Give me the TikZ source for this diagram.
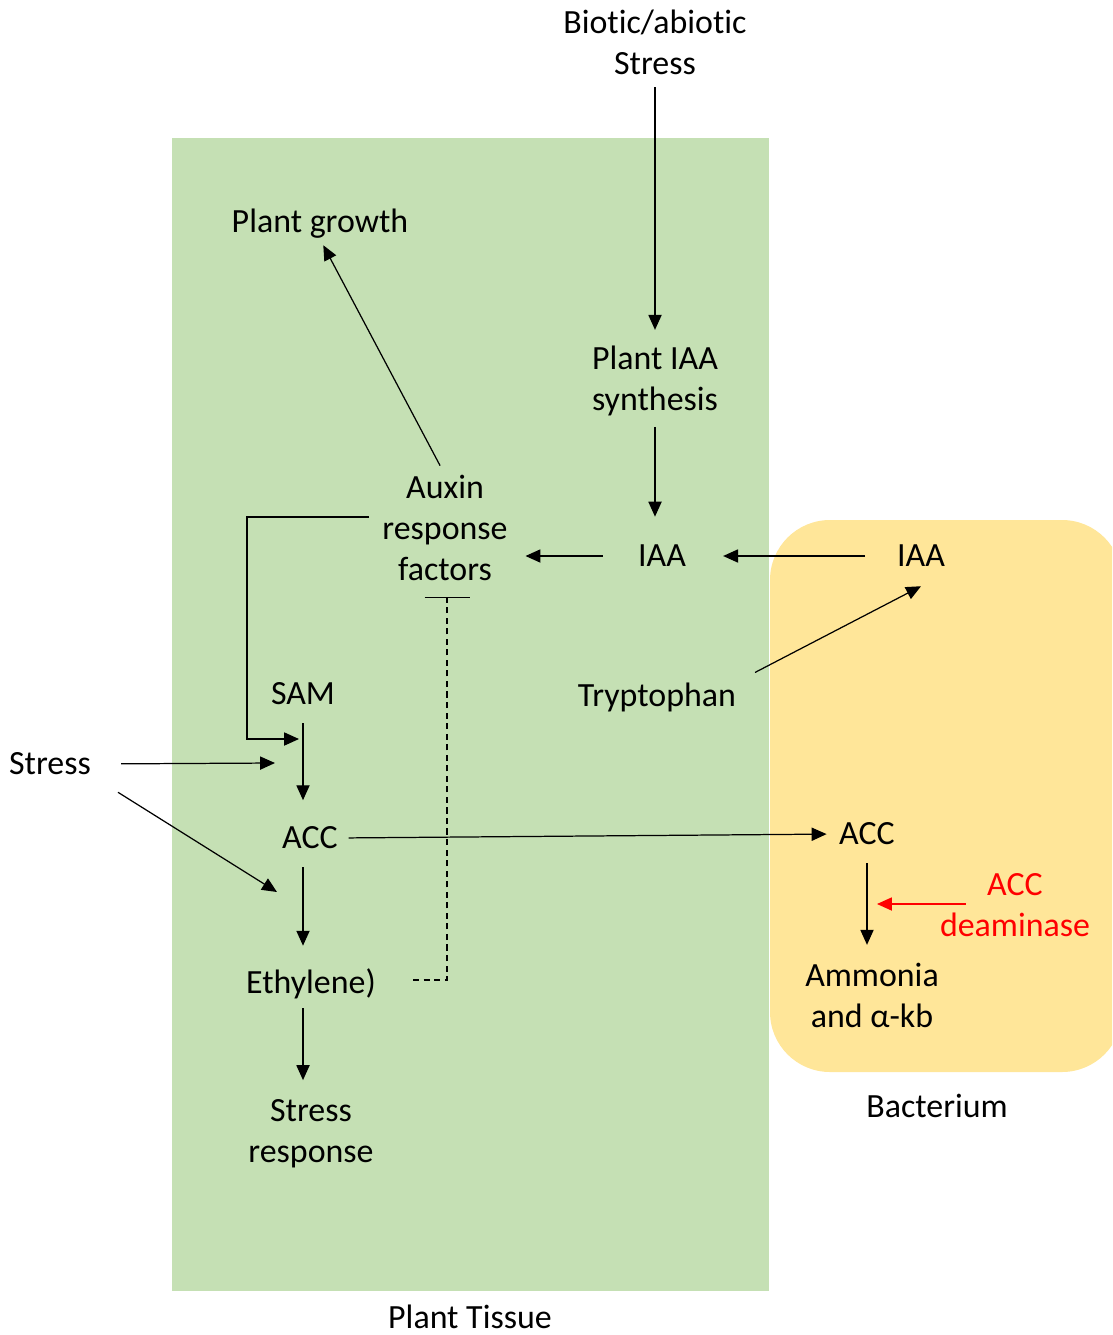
\documentclass[tikz,border=0pt]{standalone}
\usepackage{fontspec}
\setmainfont[Ligatures={NoCommon}]{Carlito}
\usepackage{tikz}
\usetikzlibrary{arrows.meta, positioning}
\definecolor{tissue}{HTML}{C5E0B4}
\definecolor{bact}{HTML}{FFE699}
\tikzset{lbl/.style={align=center, inner sep=0pt, font=\fontsize{19.3}{23.3}\selectfont},
    arr/.style={-{Triangle[length=8.5pt,width=7.5pt]}, line width=0.7pt},
    inhib/.style={-{Bar[width=0.9cm]}, line width=0.6pt, dash pattern=on 3.5pt off 2.5pt}}

\begin{document}
\begin{tikzpicture}[x=0.02cm,y=-0.02cm]
                 \useasboundingbox (0,0) rectangle (1112,1335);
                 \fill[tissue] (172,138) rectangle (769,1291);
                 \begin{scope}
                 \clip (0,0) rectangle (1112,1335);
                 \fill[bact, rounded corners=1.2cm] (770,520) rectangle (1122,1072);
                 \end{scope}
                 \node[lbl] (bio) at (655,42) {Biotic/abiotic\\Stress};
                 \node[lbl] (growth) at (320,224) {Plant growth};
                 \node[lbl] (syn) at (655,381) {Plant IAA\\synthesis};
                 \node[lbl] (auxin) at (445,528) {Auxin\\response\\factors};
                 \node[lbl] (iaa) at (662,556) {IAA};
                 \node[lbl] (iaab) at (921,556) {IAA};
                 \node[lbl] (tryp) at (657,697) {Tryptophan};
                 \node[lbl] (sam) at (303,694) {SAM};
                 \node[lbl] (stress) at (50,764) {Stress};
                 \node[lbl] (acc) at (310,838) {ACC};
                 \node[lbl] (accb) at (867,834) {ACC};
                 \node[lbl, text=red] (deam) at (1015,905) {ACC\\deaminase};
                 \node[lbl] (eth) at (311,984) {Ethylene)};
                 \node[lbl] (amm) at (872,995) {Ammonia\\and α-kb};
                 \node[lbl] (resp) at (311,1134) {Stress\\response};
                 \node[lbl] (bacterium) at (937,1106) {Bacterium};
                 \node[lbl] (tissue) at (470,1317) {Plant Tissue};
                 \coordinate (fb) at (299,739);
                 \coordinate (s1) at (275,763);
                 \coordinate (s2) at (277,892);
                 \coordinate (enz) at (877,904);
                 \draw[arr, shorten <=7pt, shorten >=9pt] (bio.south) -- (syn.north);
                 \draw[arr, shorten <=6pt, shorten >=16pt] (syn.south) -- (syn.south |- iaa.north);
                 \draw[arr, shorten <=20pt, shorten >=10pt] (iaa.west) -- (iaa.west -| auxin.east);
                 \draw[arr, shorten <=18pt, shorten >=21pt] (iaab.west) -- (iaa.east);
                 \draw[arr, shorten <=12pt] (tryp.north east) -- ([shift={(0,19)}]iaab.south);
                 \draw[arr, shorten <=6pt, shorten >=4pt] (auxin.north) -- (growth.south);
                 \draw[arr] ([shift={(-13,-11)}]auxin.west) -- ++(-122,0) |- (fb);
                 \draw[arr, shorten <=17pt] (stress.east) -- (s1);
                 \draw[arr, shorten <=18pt] (stress.south east) -- (s2);
                 \draw[arr, shorten <=10pt, shorten >=15pt] (sam.south) -- (sam.south |- acc.north);
                 \draw[arr, shorten <=6pt, shorten >=7pt] (acc.east) -- (accb.west);
                 \draw[arr, shorten <=10pt, shorten >=13pt] (sam.south |- acc.south) -- (sam.south |- eth.north);
                 \draw[arr, shorten <=5pt, shorten >=11pt] (sam.south |- eth.south) -- (sam.south |- resp.north);
                 \draw[arr, shorten <=10pt, shorten >=10pt] (accb.south) -- (accb.south |- amm.north);
                 \draw[arr, red] ([shift={(26,-1)}]deam.west) -- (enz);
                 \draw[inhib] ([shift={(37,-4)}]eth.east) -| ([shift={(2,16)}]auxin.south);
             \end{tikzpicture}
\end{document}
